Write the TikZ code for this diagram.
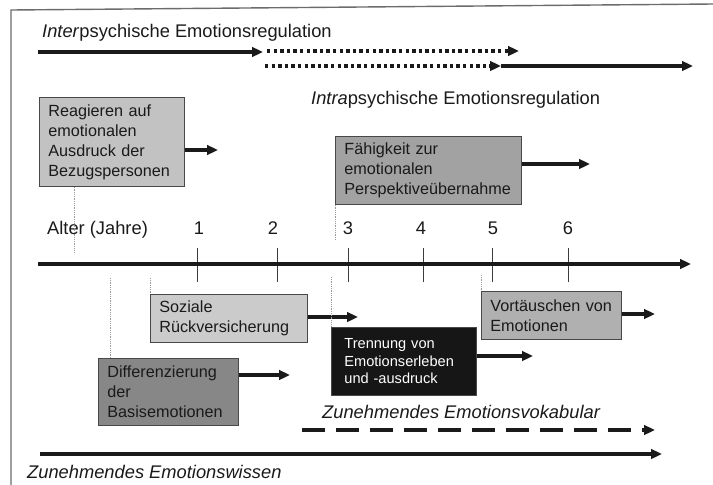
\documentclass[tikz,border=0pt]{standalone}
\usepackage{fontspec}
\setmainfont{Liberation Sans}
\usetikzlibrary{arrows.meta}
\definecolor{ink}{HTML}{1A1A1A}
\definecolor{cReag}{HTML}{C2C2C2}
\definecolor{cFaeh}{HTML}{A2A2A2}
\definecolor{cSoz}{HTML}{CBCBCB}
\definecolor{cDiff}{HTML}{878787}
\definecolor{cTren}{HTML}{161616}
\definecolor{cVort}{HTML}{B0B0B0}
\tikzset{
  x=1pt,y=-1pt,
  every node/.style={text=ink},
  lbl/.style={font=\fontsize{18.3}{22}\selectfont, inner sep=0pt},
  box/.style={draw=ink!80, line width=0.8pt, anchor=north west, align=left,
    font=\fontsize{16.2}{20}\selectfont, inner xsep=9pt, inner ysep=0pt},
  tip/.style={-{Triangle[length=11pt,width=9.5pt]}},
  arr/.style={draw=ink, line width=3.2pt, tip},
  dots/.style={draw=ink, line width=3.4pt, dash pattern=on 3.4pt off 3.2pt, tip},
  guide/.style={draw=gray!80, line width=0.7pt, dash pattern=on 1pt off 0.8pt},
  tick/.style={draw=ink!85, line width=1pt},
}
\begin{document}
\begin{tikzpicture}
\useasboundingbox (0,0) rectangle (713,485);
% frame
\draw[draw=gray!85!black, line width=1.4pt] (11,485) -- (11,10) -- (713,4);

% top: interpsychisch
\node[lbl, anchor=west] (inter) at (42,33) {\textit{Inter}psychische Emotionsregulation};
\coordinate (t1a) at (38,52);
\coordinate (t1b) at (263,52);
\coordinate (t1c) at (267,51);
\coordinate (t1d) at (519,51);
\coordinate (t2a) at (265,66);
\coordinate (t2b) at (501,66);
\coordinate (t2c) at (693,66);
\draw[arr] (t1a) -- (t1b);
\draw[dots] (t1c) -- (t1d);
\draw[dots] (t2a) -- (t2b);
\draw[arr] (t2b) -- (t2c);

\node[lbl, anchor=west] (intra) at (311,100) {\textit{Intra}psychische Emotionsregulation};

% boxes above axis
\node[box, fill=cReag, minimum width=145pt, minimum height=89pt, text width=127pt] (reag) at (39,97)
  {Reagieren auf\\emotionalen\\Ausdruck der\\Bezugspersonen};
\coordinate (reagE) at (218,150);
\draw[arr] (reag.east |- reagE) -- (reagE);

\node[box, fill=cFaeh, minimum width=186pt, minimum height=68pt, text width=168pt] (faeh) at (335,136)
  {Fähigkeit zur\\emotionalen\\Perspektiveübernahme};
\coordinate (faehE) at (590,164);
\draw[arr] (faeh.east |- faehE) -- (faehE);

% axis
\node[lbl, anchor=west] (alter) at (47,230) {Alter (Jahre)};
\node[lbl] (n1) at (199,228) {1};
\node[lbl] (n2) at (273,228) {2};
\node[lbl] (n3) at (348,228) {3};
\node[lbl] (n4) at (421,228) {4};
\node[lbl] (n5) at (493,228) {5};
\node[lbl] (n6) at (568,228) {6};
\coordinate (axA) at (38,264);
\coordinate (axB) at (691,264);
\foreach \xx in {197,277,348,423,492,568} {\draw[tick] (\xx,248) -- (\xx,282);}
\draw[arr] (axA) -- (axB);

% guides above axis
\coordinate (g1) at (74,253);
\coordinate (g2) at (335,240);
\draw[guide] (reag.south -| g1) -- (g1);
\draw[guide] (faeh.south west) -- (g2);

% boxes below axis
\node[box, fill=cSoz, minimum width=157pt, minimum height=48pt, text width=139pt] (soz) at (150,294)
  {Soziale\\Rückversicherung};
\coordinate (sozE) at (358,317);
\draw[arr] (soz.east |- sozE) -- (sozE);

\node[box, fill=cDiff, minimum width=140pt, minimum height=67pt, text width=122pt] (diff) at (98,358)
  {Differenzierung\\der\\Basisemotionen};
\coordinate (diffE) at (290,375);
\draw[arr] (diff.east |- diffE) -- (diffE);

\node[box, fill=cTren, minimum width=145pt, minimum height=68pt, text width=119pt, inner xsep=13pt,
  font=\fontsize{14.6}{17.6}\selectfont, text=white] (tren) at (331,327)
  {Trennung von\\Emotionserleben\\und -ausdruck};
\coordinate (trenE) at (533,356);
\draw[arr] (tren.east |- trenE) -- (trenE);

\node[box, fill=cVort, minimum width=140pt, minimum height=48pt, text width=122pt] (vort) at (481,291)
  {Vortäuschen von\\Emotionen};
\coordinate (vortE) at (655,314);
\draw[arr] (vort.east |- vortE) -- (vortE);

% guides below axis
\coordinate (g3) at (110,278);
\coordinate (g4) at (150,278);
\coordinate (g5) at (331,277);
\coordinate (g6) at (481,275);
\draw[guide] (g3) -- (diff.north -| g3);
\draw[guide] (g4) -- (soz.north west);
\draw[guide] (g5) -- (tren.north west);
\draw[guide] (g6) -- (vort.north west);

% bottom arrows
\node[lbl, anchor=west] (vok) at (322,412) {\textit{Zunehmendes Emotionsvokabular}};
\coordinate (vA) at (302,430);
\coordinate (vB) at (655,430);
\draw[draw=ink, line width=3.4pt, dash pattern=on 23pt off 11pt, tip] (vA) -- (vB);

\coordinate (wA) at (40,454);
\coordinate (wB) at (662,454);
\draw[arr] (wA) -- (wB);
\node[lbl, anchor=west] (wis) at (27,472) {\textit{Zunehmendes Emotionswissen}};
\end{tikzpicture}
\end{document}
